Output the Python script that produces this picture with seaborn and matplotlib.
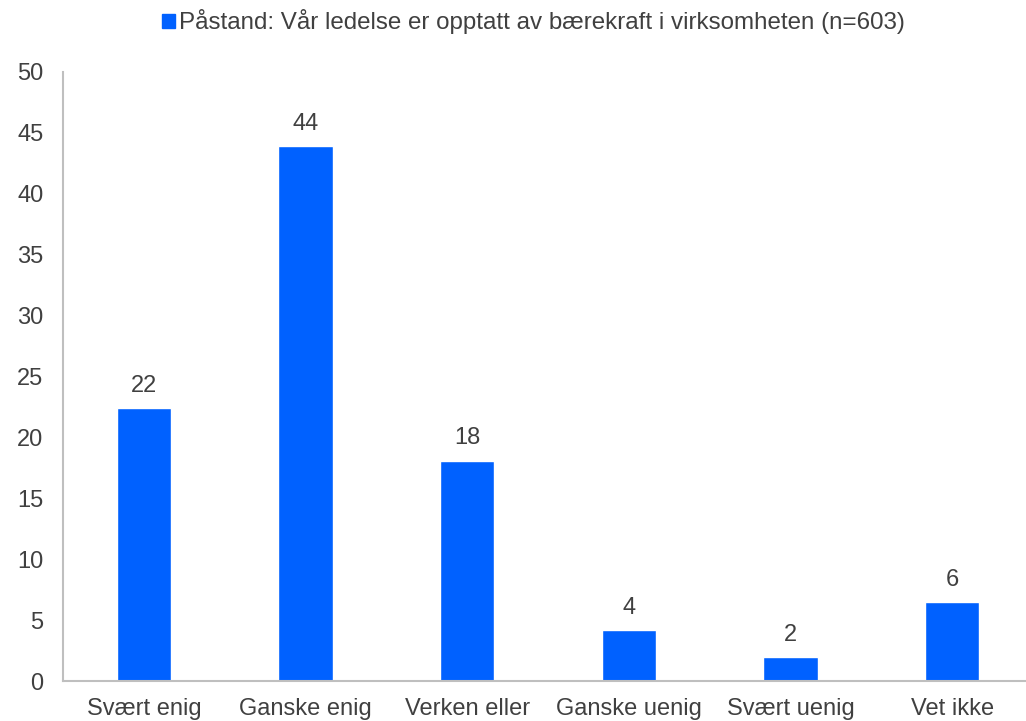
import matplotlib
matplotlib.use("Agg")
import matplotlib.pyplot as plt
import pandas as pd
import seaborn as sns

categories = ["Svært enig", "Ganske enig", "Verken eller", "Ganske uenig", "Svært uenig", "Vet ikke"]
values = [22.4, 43.9, 18.1, 4.2, 2.0, 6.45]
series_name = "Påstand: Vår ledelse er opptatt av bærekraft i virksomheten (n=603)"

BLUE = "#0061FF"
TEXT = "#404040"
SPINE = "#BFBFBF"
FS = 17

sns.set_style("white")
plt.rcParams["font.family"] = ["Liberation Sans", "DejaVu Sans"]

df = pd.DataFrame({"kategori": categories, "prosent": values, "serie": series_name})

fig = plt.figure(figsize=(10.26, 7.21), dpi=100)
ax = fig.add_axes([63 / 1026, 40 / 721, 970 / 1026, 609 / 721])

sns.barplot(data=df, x="kategori", y="prosent", hue="serie", palette=[BLUE],
            width=0.335, saturation=1, ax=ax, legend=False)
ax.set_xlim(-0.5, len(categories) - 0.5)

for cont in ax.containers:
    ax.bar_label(cont, fmt="%.0f", padding=8, fontsize=FS, color=TEXT)

ax.set_ylim(0, 50)
ax.set_yticks(range(0, 51, 5))
ax.set_xlabel("")
ax.set_ylabel("")
ax.tick_params(axis="y", length=0, pad=14, labelsize=FS, labelcolor=TEXT)
ax.tick_params(axis="x", length=0, pad=12, labelsize=FS, labelcolor=TEXT)

sns.despine(ax=ax, top=True, right=True)
for side in ["left", "bottom"]:
    ax.spines[side].set_color(SPINE)
    ax.spines[side].set_linewidth(1.5)

handle = plt.Rectangle((0, 0), 1, 1, color=BLUE)
fig.legend([handle], [series_name], loc="center", bbox_to_anchor=(533 / 1026, 1 - 22 / 721),
           frameon=False, fontsize=17.4, handlelength=0.55, handleheight=0.55,
           handletextpad=0.15, labelcolor=TEXT)

fig.savefig("out.png", dpi=100)
